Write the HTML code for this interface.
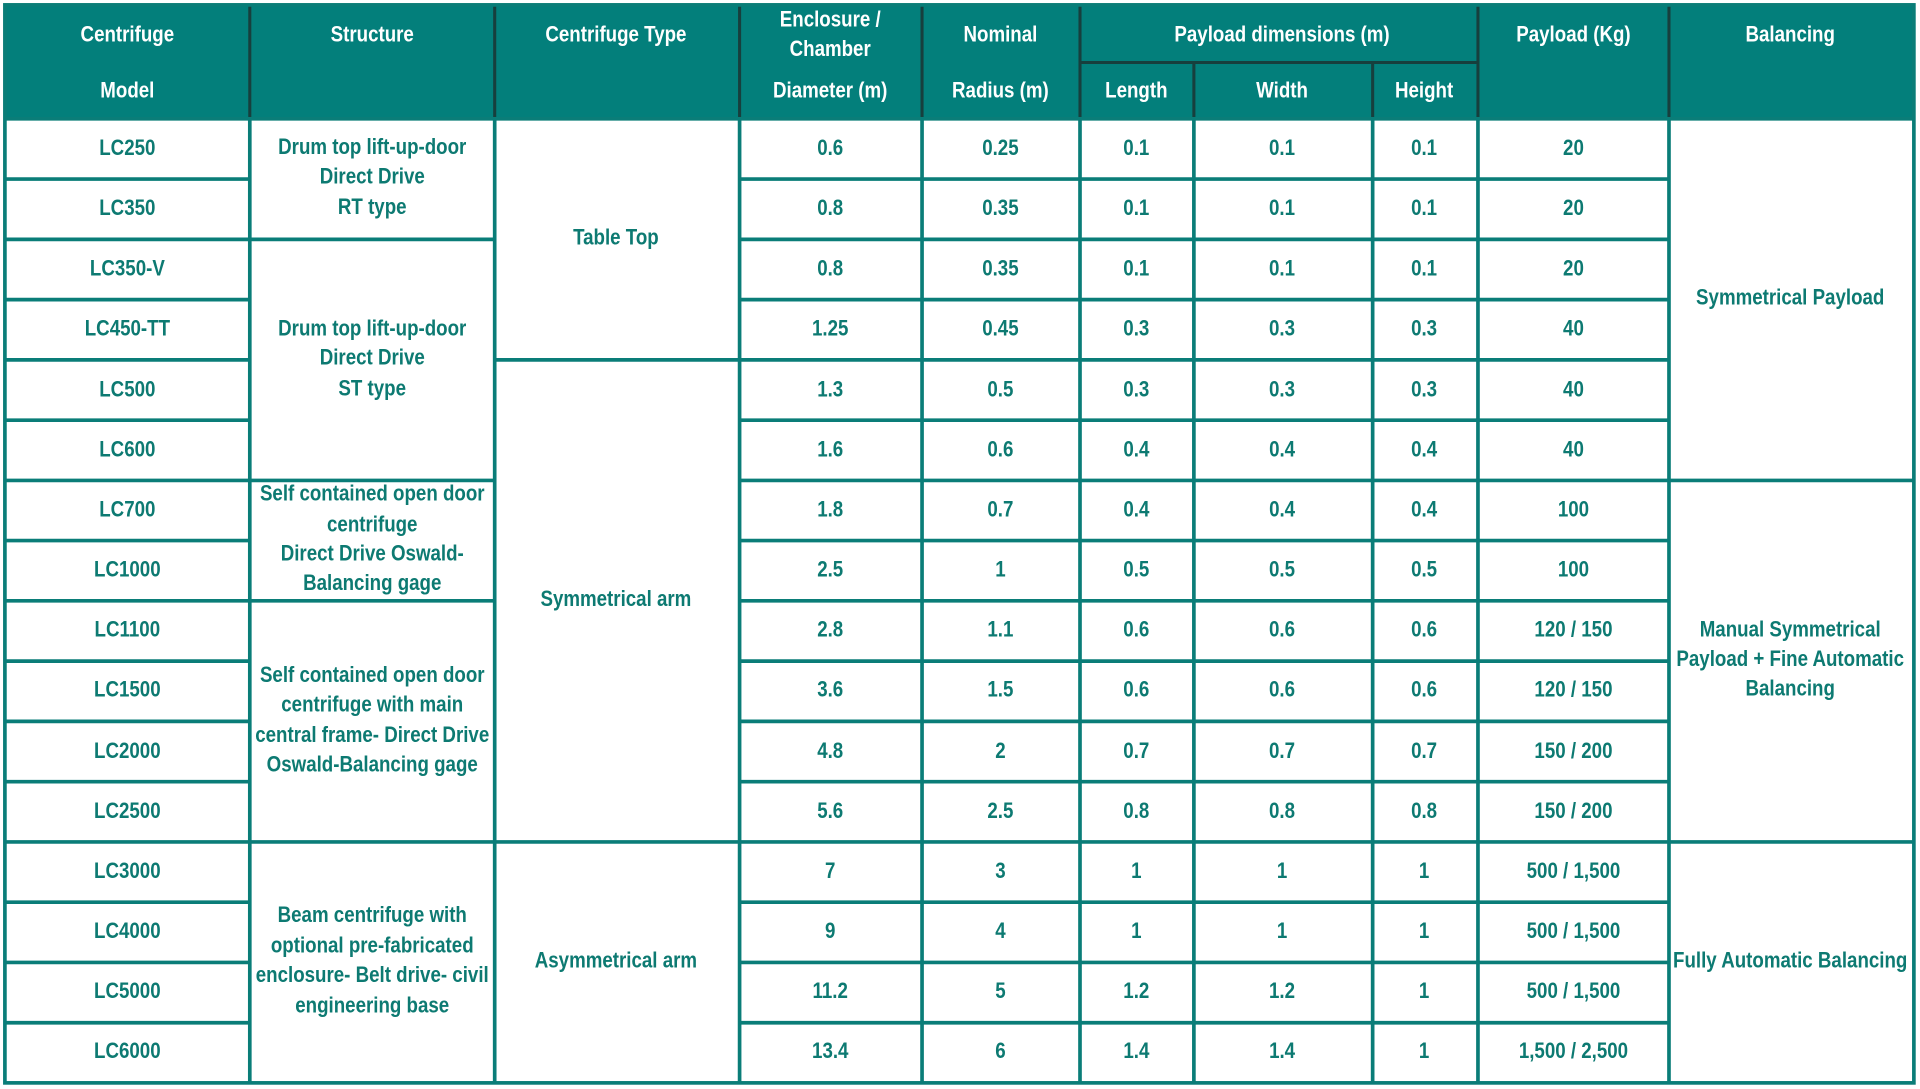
<!DOCTYPE html>
<html><head><meta charset="utf-8"><style>
html,body{margin:0;padding:0;background:#fff;}
svg{display:block;}
text{font-family:"Liberation Sans Narrow","Liberation Sans",sans-serif;font-weight:bold;font-size:18px;text-anchor:middle;dominant-baseline:central;transform:scaleX(0.85);transform-box:fill-box;transform-origin:center;}
.h{fill:#fff;}
.b{fill:#0d7a72;}
</style></head><body>
<svg width="1920" height="1089" viewBox="0 0 1568 889" preserveAspectRatio="none">
<rect x="0" y="0" width="1568" height="889" fill="#fff"/>
<rect x="4" y="4" width="1559" height="93" fill="#037f7b"/>
<g stroke="#173f3d" stroke-width="2.5">
<line x1="4" y1="4" x2="1563" y2="4"/>
<line x1="204" y1="4" x2="204" y2="97"/><line x1="404" y1="4" x2="404" y2="97"/>
<line x1="604" y1="4" x2="604" y2="97"/><line x1="753" y1="4" x2="753" y2="97"/>
<line x1="882" y1="4" x2="882" y2="97"/><line x1="1207" y1="4" x2="1207" y2="97"/>
<line x1="1363" y1="4" x2="1363" y2="97"/>
<line x1="975" y1="51" x2="975" y2="97"/><line x1="1121" y1="51" x2="1121" y2="97"/>
<line x1="882" y1="51" x2="1207" y2="51"/>
</g>
<g stroke="#0a7d78" stroke-width="3" fill="none">
<rect x="4" y="4" width="1559" height="880"/>
<line x1="4" y1="97" x2="1563" y2="97"/>
<line x1="204" y1="97" x2="204" y2="884"/><line x1="404" y1="97" x2="404" y2="884"/>
<line x1="604" y1="97" x2="604" y2="884"/><line x1="753" y1="97" x2="753" y2="884"/>
<line x1="882" y1="97" x2="882" y2="884"/><line x1="975" y1="97" x2="975" y2="884"/>
<line x1="1121" y1="97" x2="1121" y2="884"/><line x1="1207" y1="97" x2="1207" y2="884"/>
<line x1="1363" y1="97" x2="1363" y2="884"/>
<path d="M4 146.2H204M4 195.4H204M4 244.6H204M4 293.8H204M4 343H204M4 392.2H204M4 441.3H204M4 490.5H204M4 539.7H204M4 588.9H204M4 638.1H204M4 687.3H204M4 736.5H204M4 785.7H204M4 834.9H204"/>
<path d="M604 146.2H1363M604 195.4H1363M604 244.6H1363M604 293.8H1363M604 343H1363M604 392.2H1363M604 441.3H1363M604 490.5H1363M604 539.7H1363M604 588.9H1363M604 638.1H1363M604 687.3H1363M604 736.5H1363M604 785.7H1363M604 834.9H1363"/>
<path d="M204 195.4H404M204 392.2H404M204 490.5H404M204 687.3H404"/>
<path d="M404 293.8H604M404 687.3H604"/>
<path d="M1363 392.2H1563M1363 687.3H1563"/>
</g>
<text class="h" x="104" y="28">Centrifuge</text><text class="h" x="104" y="74">Model</text>
<text class="h" x="304" y="28">Structure</text>
<text class="h" x="503" y="28">Centrifuge Type</text>
<text class="h" x="678" y="16">Enclosure /</text><text class="h" x="678" y="40">Chamber</text><text class="h" x="678" y="74">Diameter (m)</text>
<text class="h" x="817" y="28">Nominal</text><text class="h" x="817" y="74">Radius (m)</text>
<text class="h" x="1047" y="28">Payload dimensions (m)</text>
<text class="h" x="928" y="74">Length</text><text class="h" x="1047" y="74">Width</text><text class="h" x="1163" y="74">Height</text>
<text class="h" x="1285" y="28">Payload (Kg)</text>
<text class="h" x="1462" y="28">Balancing</text>
<text class="b" x="304" y="120">Drum top lift-up-door</text><text class="b" x="304" y="144">Direct Drive</text><text class="b" x="304" y="169">RT type</text>
<text class="b" x="304" y="268">Drum top lift-up-door</text><text class="b" x="304" y="292">Direct Drive</text><text class="b" x="304" y="317">ST type</text>
<text class="b" x="304" y="403">Self contained open door</text><text class="b" x="304" y="428">centrifuge</text><text class="b" x="304" y="452">Direct Drive Oswald-</text><text class="b" x="304" y="476">Balancing gage</text>
<text class="b" x="304" y="551">Self contained open door</text><text class="b" x="304" y="575">centrifuge with main</text><text class="b" x="304" y="600">central frame- Direct Drive</text><text class="b" x="304" y="624">Oswald-Balancing gage</text>
<text class="b" x="304" y="747">Beam centrifuge with</text><text class="b" x="304" y="772">optional pre-fabricated</text><text class="b" x="304" y="796">enclosure- Belt drive- civil</text><text class="b" x="304" y="821">engineering base</text>
<text class="b" x="503" y="194">Table Top</text>
<text class="b" x="503" y="489">Symmetrical arm</text>
<text class="b" x="503" y="784">Asymmetrical arm</text>
<text class="b" x="1462" y="243">Symmetrical Payload</text>
<text class="b" x="1462" y="514">Manual Symmetrical</text><text class="b" x="1462" y="538">Payload + Fine Automatic</text><text class="b" x="1462" y="562">Balancing</text>
<text class="b" x="1462" y="784">Fully Automatic Balancing</text>
<text class="b" x="104" y="121">LC250</text><text class="b" x="678" y="121">0.6</text><text class="b" x="817" y="121">0.25</text><text class="b" x="928" y="121">0.1</text><text class="b" x="1047" y="121">0.1</text><text class="b" x="1163" y="121">0.1</text><text class="b" x="1285" y="121">20</text>
<text class="b" x="104" y="170">LC350</text><text class="b" x="678" y="170">0.8</text><text class="b" x="817" y="170">0.35</text><text class="b" x="928" y="170">0.1</text><text class="b" x="1047" y="170">0.1</text><text class="b" x="1163" y="170">0.1</text><text class="b" x="1285" y="170">20</text>
<text class="b" x="104" y="219">LC350-V</text><text class="b" x="678" y="219">0.8</text><text class="b" x="817" y="219">0.35</text><text class="b" x="928" y="219">0.1</text><text class="b" x="1047" y="219">0.1</text><text class="b" x="1163" y="219">0.1</text><text class="b" x="1285" y="219">20</text>
<text class="b" x="104" y="268">LC450-TT</text><text class="b" x="678" y="268">1.25</text><text class="b" x="817" y="268">0.45</text><text class="b" x="928" y="268">0.3</text><text class="b" x="1047" y="268">0.3</text><text class="b" x="1163" y="268">0.3</text><text class="b" x="1285" y="268">40</text>
<text class="b" x="104" y="318">LC500</text><text class="b" x="678" y="318">1.3</text><text class="b" x="817" y="318">0.5</text><text class="b" x="928" y="318">0.3</text><text class="b" x="1047" y="318">0.3</text><text class="b" x="1163" y="318">0.3</text><text class="b" x="1285" y="318">40</text>
<text class="b" x="104" y="367">LC600</text><text class="b" x="678" y="367">1.6</text><text class="b" x="817" y="367">0.6</text><text class="b" x="928" y="367">0.4</text><text class="b" x="1047" y="367">0.4</text><text class="b" x="1163" y="367">0.4</text><text class="b" x="1285" y="367">40</text>
<text class="b" x="104" y="416">LC700</text><text class="b" x="678" y="416">1.8</text><text class="b" x="817" y="416">0.7</text><text class="b" x="928" y="416">0.4</text><text class="b" x="1047" y="416">0.4</text><text class="b" x="1163" y="416">0.4</text><text class="b" x="1285" y="416">100</text>
<text class="b" x="104" y="465">LC1000</text><text class="b" x="678" y="465">2.5</text><text class="b" x="817" y="465">1</text><text class="b" x="928" y="465">0.5</text><text class="b" x="1047" y="465">0.5</text><text class="b" x="1163" y="465">0.5</text><text class="b" x="1285" y="465">100</text>
<text class="b" x="104" y="514">LC1100</text><text class="b" x="678" y="514">2.8</text><text class="b" x="817" y="514">1.1</text><text class="b" x="928" y="514">0.6</text><text class="b" x="1047" y="514">0.6</text><text class="b" x="1163" y="514">0.6</text><text class="b" x="1285" y="514">120 / 150</text>
<text class="b" x="104" y="563">LC1500</text><text class="b" x="678" y="563">3.6</text><text class="b" x="817" y="563">1.5</text><text class="b" x="928" y="563">0.6</text><text class="b" x="1047" y="563">0.6</text><text class="b" x="1163" y="563">0.6</text><text class="b" x="1285" y="563">120 / 150</text>
<text class="b" x="104" y="613">LC2000</text><text class="b" x="678" y="613">4.8</text><text class="b" x="817" y="613">2</text><text class="b" x="928" y="613">0.7</text><text class="b" x="1047" y="613">0.7</text><text class="b" x="1163" y="613">0.7</text><text class="b" x="1285" y="613">150 / 200</text>
<text class="b" x="104" y="662">LC2500</text><text class="b" x="678" y="662">5.6</text><text class="b" x="817" y="662">2.5</text><text class="b" x="928" y="662">0.8</text><text class="b" x="1047" y="662">0.8</text><text class="b" x="1163" y="662">0.8</text><text class="b" x="1285" y="662">150 / 200</text>
<text class="b" x="104" y="711">LC3000</text><text class="b" x="678" y="711">7</text><text class="b" x="817" y="711">3</text><text class="b" x="928" y="711">1</text><text class="b" x="1047" y="711">1</text><text class="b" x="1163" y="711">1</text><text class="b" x="1285" y="711">500 / 1,500</text>
<text class="b" x="104" y="760">LC4000</text><text class="b" x="678" y="760">9</text><text class="b" x="817" y="760">4</text><text class="b" x="928" y="760">1</text><text class="b" x="1047" y="760">1</text><text class="b" x="1163" y="760">1</text><text class="b" x="1285" y="760">500 / 1,500</text>
<text class="b" x="104" y="809">LC5000</text><text class="b" x="678" y="809">11.2</text><text class="b" x="817" y="809">5</text><text class="b" x="928" y="809">1.2</text><text class="b" x="1047" y="809">1.2</text><text class="b" x="1163" y="809">1</text><text class="b" x="1285" y="809">500 / 1,500</text>
<text class="b" x="104" y="858">LC6000</text><text class="b" x="678" y="858">13.4</text><text class="b" x="817" y="858">6</text><text class="b" x="928" y="858">1.4</text><text class="b" x="1047" y="858">1.4</text><text class="b" x="1163" y="858">1</text><text class="b" x="1285" y="858">1,500 / 2,500</text>
</svg>
</body></html>
